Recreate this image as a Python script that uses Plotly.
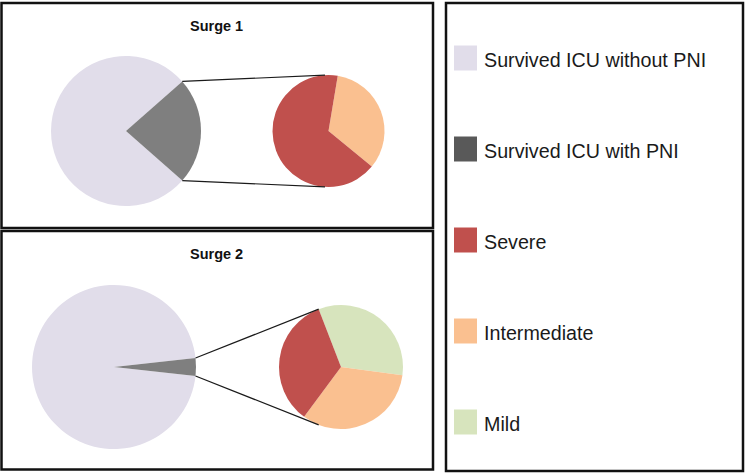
import math
import plotly.graph_objects as go

# ---------------- data ----------------
main_labels = ["Survived ICU without PNI", "Survived ICU with PNI"]
surge1_main = [77, 23]
surge2_main = [96.5, 3.5]

sub1_labels = ["Severe", "Intermediate"]
surge1_sub = [66.7, 33.3]
sub2_labels = ["Severe", "Intermediate", "Mild"]
surge2_sub = [34, 33, 33]

panel_titles = ["Surge 1", "Surge 2"]
legend_labels = ["Survived ICU without PNI", "Survived ICU with PNI", "Severe", "Intermediate", "Mild"]

# ---------------- styles ----------------
W, H = 745, 473
colors = {
    "Survived ICU without PNI": "#E1DDEA",
    "Survived ICU with PNI": "#7F7F7F",
    "Severe": "#C0504D",
    "Intermediate": "#FAC090",
    "Mild": "#D7E4BD",
}
legend_colors = dict(colors)
legend_colors["Survived ICU with PNI"] = "#595959"


def px_x(x):
    return x / W


def px_y(y):
    return 1 - y / H


def domain(cx, cy, r):
    return dict(x=[px_x(cx - r), px_x(cx + r)], y=[px_y(cy + r), px_y(cy - r)])


fig = go.Figure()
shapes = []
annotations = []

panels = [
    dict(main=surge1_main, sub=surge1_sub, sub_labels=sub1_labels,
         mc=(126, 131), mr=75, sc=(328.5, 131), sr=56, srot=9.5, conn=3.6,
         box=(1.5, 3, 433, 228), title_y=26),
    dict(main=surge2_main, sub=surge2_sub, sub_labels=sub2_labels,
         mc=(114, 367), mr=82, sc=(341, 367), sr=62, srot=-21.1, conn=21.1,
         box=(1.5, 231, 433, 469.5), title_y=254),
]

for i, p in enumerate(panels):
    total = sum(p["main"])
    gray_deg = 360 * p["main"][1] / total
    # main pie: grey slice centred at 3 o'clock
    fig.add_trace(go.Pie(
        labels=main_labels, values=p["main"], sort=False,
        direction="clockwise", rotation=90 + gray_deg / 2,
        marker=dict(colors=[colors[l] for l in main_labels], line=dict(width=0)),
        textinfo="none", hoverinfo="label+value", showlegend=False,
        domain=domain(p["mc"][0], p["mc"][1], p["mr"]),
    ))
    # secondary pie (drawn clockwise from the last category)
    labs = p["sub_labels"][::-1]
    vals = p["sub"][::-1]
    fig.add_trace(go.Pie(
        labels=labs, values=vals, sort=False,
        direction="clockwise", rotation=p["srot"],
        marker=dict(colors=[colors[l] for l in labs], line=dict(width=0)),
        textinfo="none", hoverinfo="label+value", showlegend=False,
        domain=domain(p["sc"][0], p["sc"][1], p["sr"]),
    ))
    # connector lines
    cx, cy, r = p["mc"][0], p["mc"][1], p["mr"]
    sx, sy, sr = p["sc"][0], p["sc"][1], p["sr"]
    for sign in (-1, 1):
        a = math.radians(90 + sign * gray_deg / 2)
        x0 = cx + r * math.sin(a)
        y0 = cy - r * math.cos(a)
        b = math.radians(360 - p["conn"]) if sign < 0 else math.radians(180 + p["conn"])
        x1 = sx + sr * math.sin(b)
        y1 = sy - sr * math.cos(b)
        shapes.append(dict(type="line", xref="paper", yref="paper",
                           x0=px_x(x0), y0=px_y(y0), x1=px_x(x1), y1=px_y(y1),
                           line=dict(color="#1a1a1a", width=1.2)))
    # panel box
    bx0, by0, bx1, by1 = p["box"]
    shapes.append(dict(type="rect", xref="paper", yref="paper",
                       x0=px_x(bx0), y0=px_y(by1), x1=px_x(bx1), y1=px_y(by0),
                       line=dict(color="#111111", width=2.5)))
    annotations.append(dict(text="<b>" + panel_titles[i] + "</b>", xref="paper", yref="paper",
                            x=px_x(217), y=px_y(p["title_y"]), showarrow=False,
                            xanchor="center", yanchor="middle",
                            font=dict(family="Liberation Sans", size=14.5, color="#111111")))

# legend box
shapes.append(dict(type="rect", xref="paper", yref="paper",
                   x0=px_x(446), y0=px_y(471), x1=px_x(743), y1=px_y(3),
                   line=dict(color="#111111", width=2.5)))

# manual legend
for k, lab in enumerate(legend_labels):
    yc = 58 + k * 91
    shapes.append(dict(type="rect", xref="paper", yref="paper",
                       x0=px_x(454), x1=px_x(477), y0=px_y(yc + 12.5), y1=px_y(yc - 12.5),
                       fillcolor=legend_colors[lab], line=dict(width=0)))
    annotations.append(dict(text=lab, xref="paper", yref="paper",
                            x=px_x(482), y=px_y(yc + 2), showarrow=False,
                            xanchor="left", yanchor="middle",
                            font=dict(family="Liberation Sans", size=19.7, color="#1a1a1a")))

fig.update_layout(
    width=W, height=H,
    margin=dict(l=0, r=0, t=0, b=0),
    paper_bgcolor="white", plot_bgcolor="white",
    shapes=shapes, annotations=annotations,
    showlegend=False,
)

fig.write_html("out.html",
               config={"displayModeBar": False},
               post_script="document.body.style.margin='0';document.body.style.overflow='hidden';")
